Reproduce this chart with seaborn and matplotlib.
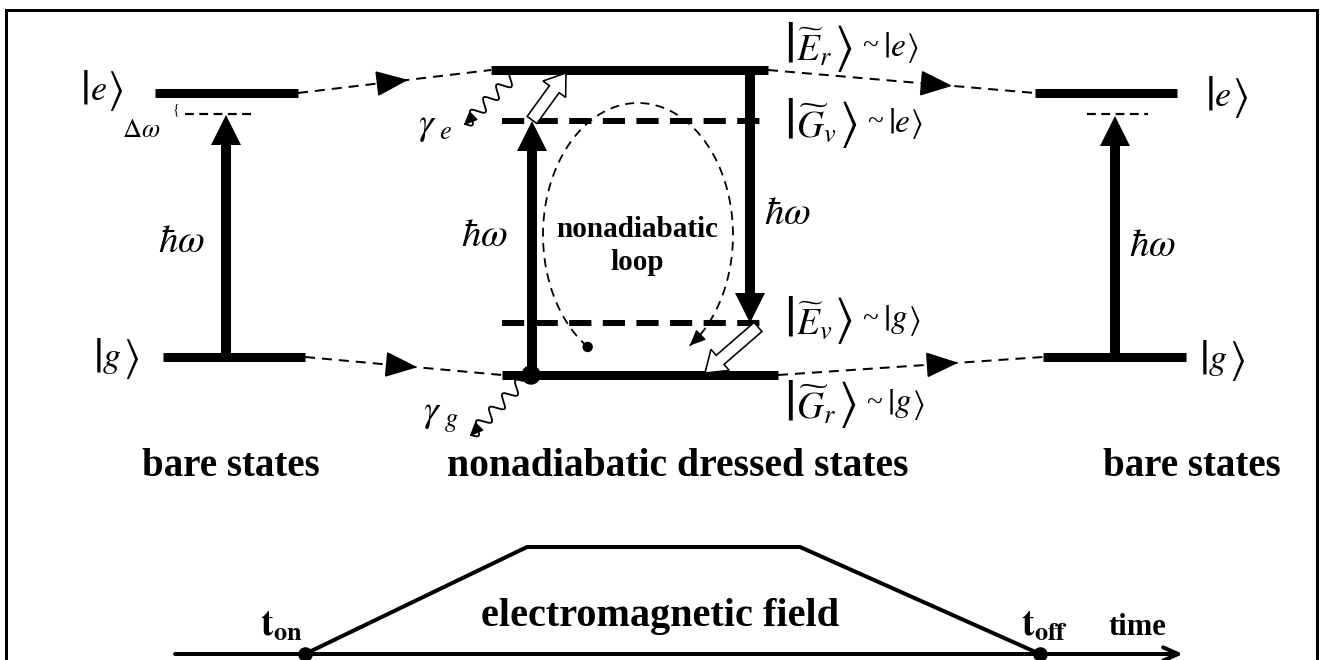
import numpy as np
import matplotlib
matplotlib.use("Agg")
import matplotlib.pyplot as plt
import seaborn as sns
import pandas as pd
from matplotlib.patches import FancyArrow, Circle

# ---------------- data (diagram units = pixels) ----------------
bare_e_y = 93
bare_g_y = 357
bare_virtual_y = 114
dressed_Er_y = 70
dressed_Gv_y = 121
dressed_Ev_y = 323
dressed_Gr_y = 375
left_x = [155, 298]
left_g_x = [163, 305]
mid_x = [491, 768]
mid_dash_x = [502, 770]
mid_g_x = [502, 778]
right_e_x = [1035, 1177]
right_g_x = [1043, 1186]

pulse_t = [305, 527, 800, 1040]       # t_on, rise end, fall start, t_off
pulse_amp = [0.0, 1.0, 1.0, 0.0]
axis_y = 654
amp_scale = 107

mid_state_letters = [r"$\widetilde{E}_r$", r"$\widetilde{G}_v$", r"$\widetilde{E}_v$", r"$\widetilde{G}_r$"]
mid_state_bare = [r"$e$", r"$e$", r"$g$", r"$g$"]
mid_state_y = [48, 124, 321, 405]

sns.set_theme(style="white")
plt.rcParams["font.family"] = ["Liberation Serif", "DejaVu Serif"]
plt.rcParams["mathtext.fontset"] = "stix"
plt.rcParams["text.color"] = "black"

fig = plt.figure(figsize=(13.2, 6.6), dpi=100)
ax = fig.add_axes([0, 0, 1, 1])
ax.set_xlim(0, 1320)
ax.set_ylim(660, 0)
ax.axis("off")
renderer = fig.canvas.get_renderer()

PX = 0.72  # points per pixel

# frame
ax.plot([6, 6, 1317, 1317], [662, 10, 10, 662], color="black", lw=3 * PX, solid_joinstyle="miter")


def seq(x, y, parts):
    """Place text pieces one after another, left to right."""
    cx = x
    for s, fs, gap in parts:
        t = ax.text(cx, y, s, fontsize=fs, ha="left", va="center", color="black")
        bb = t.get_window_extent(renderer)
        cx += bb.width + gap
    return cx


def ket(x, y, inner, bar_fs, inner_fs, gap=1, ang_fs=None):
    ang_fs = ang_fs or bar_fs
    return seq(x, y, [(r"$|$", bar_fs, gap), (inner, inner_fs, gap), (r"$\rangle$", ang_fs, 0)])


def level(xs, y, dashed=False, lw=9):
    if dashed:
        ax.plot(xs, [y, y], color="black", lw=lw * PX, linestyle=(0, (3.7, 1.9)), dash_capstyle="butt")
    else:
        ax.plot(xs, [y, y], color="black", lw=lw * PX, solid_capstyle="butt")


def thick_arrow(x, y0, y1):
    ax.add_patch(FancyArrow(x, y0, 0, y1 - y0, width=10, head_width=30, head_length=30,
                            length_includes_head=True, color="black", lw=0))


def connector(p0, p1, frac=0.6):
    ax.plot([p0[0], p1[0]], [p0[1], p1[1]], color="black", lw=2 * PX, linestyle=(0, (5, 3.5)))
    mx = p0[0] + (p1[0] - p0[0]) * frac
    my = p0[1] + (p1[1] - p0[1]) * frac
    d = np.array([p1[0] - p0[0], p1[1] - p0[1]], float)
    d /= np.linalg.norm(d)
    ax.annotate("", xy=(mx, my), xytext=(mx - 30 * d[0], my - 30 * d[1]),
                arrowprops=dict(arrowstyle="-|>,head_length=1.0,head_width=0.4", color="black",
                                lw=2 * PX, shrinkA=0, shrinkB=0, mutation_scale=20))


def wavy(p0, p1, cycles=4, amp=5):
    p0 = np.array(p0, float); p1 = np.array(p1, float)
    d = p1 - p0
    L = np.linalg.norm(d)
    u = d / L
    n = np.array([-u[1], u[0]])
    s = np.linspace(0, 1, 300)
    off = amp * np.sin(2 * np.pi * cycles * s)
    pts = p0[None, :] + s[:, None] * d[None, :] + off[:, None] * n[None, :]
    ax.plot(pts[:, 0], pts[:, 1], color="black", lw=1.8 * PX)
    ax.annotate("", xy=p1 + 2 * u, xytext=p1 - 6 * u,
                arrowprops=dict(arrowstyle="-|>,head_length=0.7,head_width=0.3",
                                color="black", lw=1.5 * PX, shrinkA=0, shrinkB=0))


def hollow(p0, p1):
    ax.add_patch(FancyArrow(p0[0], p0[1], p1[0] - p0[0], p1[1] - p0[1], width=12, head_width=28,
                            head_length=20, length_includes_head=True, fc="white", ec="black", lw=1.6 * PX,
                            zorder=5))


# ---------------- left bare states ----------------
level(left_x, bare_e_y)
level(left_g_x, bare_g_y)
ax.plot([185, 256], [bare_virtual_y, bare_virtual_y], color="black", lw=2.2 * PX, linestyle=(0, (4, 2.5)))
thick_arrow(226, bare_g_y, bare_virtual_y + 1)
ket(80, 91, r"$e$", 35, 26, ang_fs=31)
ax.text(141, 131, r"$\Delta\omega$", fontsize=19, ha="center", va="center")
ax.text(176, 110, "{", fontsize=10, ha="center", va="center")
ax.text(181, 243, r"$\hbar\omega$", fontsize=28, ha="center", va="center")
ket(93, 359, r"$g$", 35, 26, ang_fs=31)
ax.text(231, 476, "bare states", fontsize=28, fontweight="bold", ha="center", va="baseline")

# connectors left -> middle
connector((left_x[1], bare_e_y), (mid_x[0], dressed_Er_y), frac=0.57)
connector((left_g_x[1], bare_g_y), (mid_g_x[0], dressed_Gr_y), frac=0.57)

# ---------------- middle dressed states ----------------
level(mid_x, dressed_Er_y)
level(mid_dash_x, dressed_Gv_y, dashed=True, lw=6)
level(mid_dash_x, dressed_Ev_y, dashed=True, lw=6)
level(mid_g_x, dressed_Gr_y)
thick_arrow(532, dressed_Gr_y, dressed_Gv_y)
thick_arrow(750, dressed_Er_y, dressed_Ev_y)
ax.add_patch(Circle((531, dressed_Gr_y), 9, color="black", zorder=6))

# nonadiabatic loop
cx, cy, a, b = 638, 235, 95, 132
t = np.radians(np.linspace(238, -57, 300))
lx = cx + a * np.cos(t)
ly = cy - b * np.sin(t)
ax.plot(lx, ly, color="black", lw=1.8 * PX, linestyle=(0, (5, 3.5)))
ax.annotate("", xy=(lx[-1], ly[-1]), xytext=(lx[-5], ly[-5]),
            arrowprops=dict(arrowstyle="-|>,head_length=0.8,head_width=0.35", color="black", lw=1.5 * PX,
                            shrinkA=0, shrinkB=0))
ax.add_patch(Circle((lx[0], ly[0]), 4.5, color="black"))
ax.text(637, 237, "nonadiabatic", fontsize=21, fontweight="bold", ha="center", va="baseline")
ax.text(637, 270, "loop", fontsize=21, fontweight="bold", ha="center", va="baseline")

hollow((532, 120), (566, 73))
hollow((758, 327), (705, 373))
wavy((517, 73), (465, 124), cycles=4, amp=6)
wavy((523, 381), (471, 435), cycles=4, amp=6)
ax.text(435, 127, r"$\gamma_{\ e}$", fontsize=27, ha="center", va="center")
ax.text(441, 418, r"$\gamma_{\ g}$", fontsize=27, ha="center", va="center")
ax.text(484, 237, r"$\hbar\omega$", fontsize=28, ha="center", va="center")
ax.text(787, 214, r"$\hbar\omega$", fontsize=28, ha="center", va="center")
for letter, bare, yy in zip(mid_state_letters, mid_state_bare, mid_state_y):
    xe = ket(784, yy, letter, 42, 27, gap=2, ang_fs=36)
    xe = seq(xe + 10, yy, [("~", 21, 5)])
    ket(xe, yy, bare, 26, 24, gap=0, ang_fs=23)
ax.text(678, 476, "nonadiabatic dressed states", fontsize=28.5, fontweight="bold", ha="center",
        va="baseline")

# connectors middle -> right
connector((mid_x[1], dressed_Er_y), (right_e_x[0], bare_e_y), frac=0.69)
connector((mid_g_x[1], dressed_Gr_y), (right_g_x[0], bare_g_y), frac=0.68)

# ---------------- right bare states ----------------
level(right_e_x, bare_e_y)
level(right_g_x, bare_g_y)
ax.plot([1087, 1148], [bare_virtual_y, bare_virtual_y], color="black", lw=2.2 * PX, linestyle=(0, (4, 2.5)))
thick_arrow(1115, bare_g_y, bare_virtual_y + 2)
ket(1205, 98, r"$e$", 35, 26, ang_fs=31)
ket(1199, 361, r"$g$", 35, 26, ang_fs=31)
ax.text(1152, 246, r"$\hbar\omega$", fontsize=28, ha="center", va="center")
ax.text(1192, 476, "bare states", fontsize=28, fontweight="bold", ha="center", va="baseline")

# ---------------- time axis and pulse ----------------
ax.annotate("", xy=(1183, axis_y), xytext=(175, axis_y),
            arrowprops=dict(arrowstyle="->,head_length=0.9,head_width=0.4", color="black", lw=4 * PX,
                            shrinkA=0, shrinkB=0))
pulse = pd.DataFrame({"t": pulse_t, "y": [axis_y - amp_scale * v for v in pulse_amp]})
sns.lineplot(data=pulse, x="t", y="y", ax=ax, color="black", lw=4 * PX, sort=False, estimator=None)
ax.plot([pulse_t[0], pulse_t[-1]], [axis_y, axis_y], "o", color="black", ms=9.5)
ax.text(660, 626, "electromagnetic field", fontsize=29, fontweight="bold", ha="center", va="baseline")
ax.text(281, 626, r"$\mathbf{t}_{\mathbf{on}}$", fontsize=27, ha="center", va="center")
ax.text(1045, 626, r"$\mathbf{t}_{\mathbf{off}}$", fontsize=27, ha="center", va="center")
ax.text(1137, 635, "time", fontsize=22, fontweight="bold", ha="center", va="baseline")

ax.set_xlim(0, 1320)
ax.set_ylim(660, 0)
ax.axis("off")
fig.savefig("out.png", dpi=100)
